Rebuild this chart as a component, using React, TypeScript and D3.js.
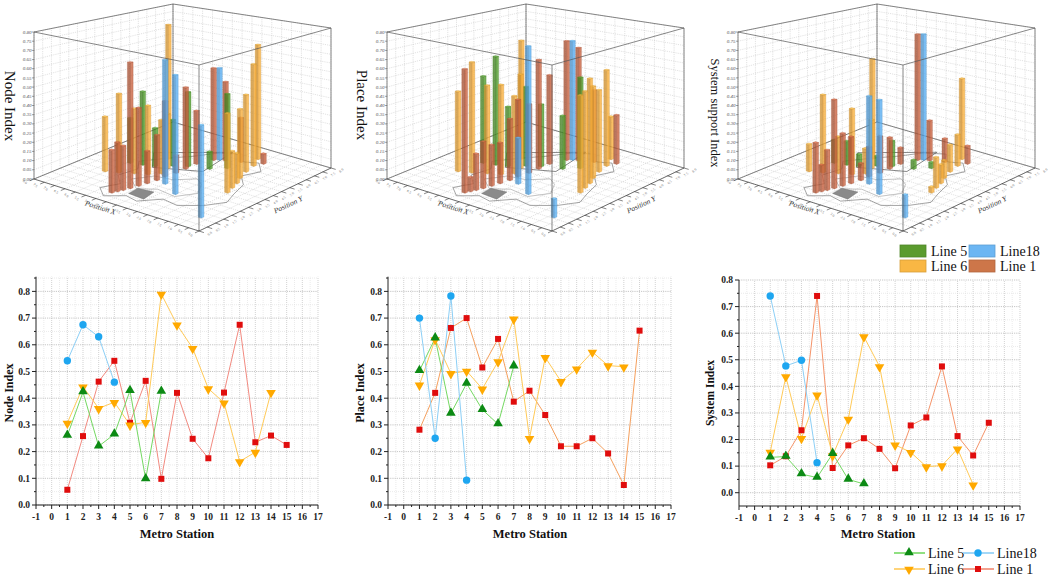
import * as d3 from 'd3';

// ---- data ----
const stationTicks = d3.range(-1, 18);

const node5 = [0.26, 0.423, 0.22, 0.265, 0.428, 0.097, 0.425];
const node18 = [0.54, 0.675, 0.63, 0.46];
const node6 = [0.307, 0.443, 0.362, 0.385, 0.3, 0.31, 0.79, 0.675, 0.587, 0.436, 0.383, 0.163, 0.198, 0.422];
const node1 = [0.057, 0.258, 0.462, 0.54, 0.308, 0.465, 0.098, 0.42, 0.248, 0.175, 0.421, 0.675, 0.235, 0.26, 0.225];

const place5 = [0.503, 0.625, 0.343, 0.455, 0.357, 0.303, 0.52];
const place18 = [0.7, 0.25, 0.783, 0.093];
const place6 = [0.45, 0.62, 0.493, 0.502, 0.435, 0.537, 0.697, 0.25, 0.553, 0.463, 0.51, 0.573, 0.522, 0.518];
const place1 = [0.282, 0.42, 0.663, 0.7, 0.515, 0.622, 0.387, 0.428, 0.337, 0.22, 0.22, 0.25, 0.193, 0.075, 0.653];

const sys5 = [0.133, 0.136, 0.07, 0.057, 0.147, 0.05, 0.033];
const sys18 = [0.74, 0.477, 0.498, 0.113];
const sys6 = [0.153, 0.437, 0.205, 0.368, 0.14, 0.277, 0.587, 0.475, 0.18, 0.152, 0.098, 0.102, 0.165, 0.03];
const sys1 = [0.103, 0.137, 0.235, 0.74, 0.093, 0.178, 0.205, 0.165, 0.092, 0.253, 0.283, 0.475, 0.213, 0.14, 0.263];

// station positions on the map floor (u = Position X share, v = Position Y share)
const pos5 = [[0.8, 0.46], [0.74, 0.48], [0.68, 0.5], [0.62, 0.56], [0.56, 0.6], [0.46, 0.64], [0.4, 0.7]];
const pos18 = [[0.5, 0.76], [0.5, 0.36], [0.38, 0.29], [0.1, 0.14]];
const pos6 = [[0.82, 0.3], [0.76, 0.33], [0.7, 0.37], [0.64, 0.4], [0.6, 0.45], [0.62, 0.52], [0.7, 0.62], [0.36, 0.88], [0.32, 0.8], [0.3, 0.72], [0.27, 0.64], [0.24, 0.58], [0.22, 0.52], [0.2, 0.46]];
const pos1 = [[0.3, 0.85], [0.4, 0.8], [0.47, 0.77], [0.52, 0.74], [0.55, 0.65], [0.55, 0.57], [0.55, 0.5], [0.56, 0.43], [0.56, 0.37], [0.57, 0.31], [0.58, 0.26], [0.59, 0.21], [0.6, 0.17], [0.61, 0.14], [0.62, 0.11]];

const zTicks = d3.range(0, 0.8001, 0.05);
const floorTicks = d3.range(0, 17);

// map decoration on the floor
const mapOutline = [[0.62, 0.05], [0.7, 0.12], [0.66, 0.22], [0.74, 0.3], [0.72, 0.42], [0.78, 0.5], [0.7, 0.62], [0.62, 0.72], [0.56, 0.82], [0.46, 0.88], [0.4, 0.8], [0.32, 0.84], [0.24, 0.76], [0.28, 0.66], [0.2, 0.58], [0.16, 0.46], [0.12, 0.36], [0.18, 0.26], [0.28, 0.18], [0.38, 0.2], [0.46, 0.1], [0.54, 0.12]];
const mapDistrict = [[0.8, 0.63], [0.51, 0.87], [0.46, 0.59], [0.68, 0.48]];
const mapInner = [[0.66, 0.3], [0.6, 0.4], [0.5, 0.42], [0.42, 0.5], [0.36, 0.46], [0.3, 0.36], [0.36, 0.26], [0.48, 0.28], [0.56, 0.22]];
const mapLake = [[0.45, 0.14], [0.55, 0.15], [0.56, 0.23], [0.47, 0.24]];

const font = '"Liberation Serif", "Times New Roman", serif';

const barColors = { l5: '#4f9a2a', l18: '#5aaef2', l6: '#f9ae3a', l1: '#c8623f' };
const legendBarColors = { l5: '#5b9b2e', l18: '#6cb6f3', l6: '#f9b744', l1: '#cd7649' };
const markColors = { l5: '#0c8a14', l18: '#1ea6f0', l6: '#ffa900', l1: '#e00d0d' };
const lineColors = { l5: '#74d862', l18: '#8ccff6', l6: '#ffca58' };

// ---- 3D panel geometry (perspective approximated bilinearly) ----
const F0 = [199, 231], L0 = [34, 179], R0 = [331, 168], B0 = [173, 122];
const HF = 166, HL = 147, HR = 140, HB = 118;

function makeProj(dx: number) {
  const z = d3.scaleLinear().domain([0, 0.8]).range([0, 1]);
  return (u: number, v: number, val = 0): [number, number] => {
    const a = (1 - u) * (1 - v), b = u * (1 - v), c = (1 - u) * v, d = u * v;
    const x = a * F0[0] + b * L0[0] + c * R0[0] + d * B0[0] + dx;
    const y = a * F0[1] + b * L0[1] + c * R0[1] + d * B0[1];
    const h = a * HF + b * HL + c * HR + d * HB;
    return [x, y - h * z(val)];
  };
}

const poly = (pts: [number, number][]) => 'M' + pts.map((p) => p[0].toFixed(1) + ',' + p[1].toFixed(1)).join('L') + 'Z';
const seg = (a: [number, number], b: [number, number]) => `M${a[0].toFixed(1)},${a[1].toFixed(1)}L${b[0].toFixed(1)},${b[1].toFixed(1)}`;

function Panel3D({ dx, title, titleX, titleY, titleSize, v5, v18, v6, v1 }: any) {
  const P = makeProj(dx);
  const gs = floorTicks.map((i) => i / 16);
  const grid = '#c4c4c4';
  const bars = [
    ...pos5.map((p, i) => ({ p, val: v5[i], c: barColors.l5 })),
    ...pos18.map((p, i) => ({ p, val: v18[i], c: barColors.l18 })),
    ...pos6.map((p, i) => ({ p, val: v6[i], c: barColors.l6 })),
    ...pos1.map((p, i) => ({ p, val: v1[i], c: barColors.l1 })),
  ].sort((a, b) => b.p[0] + b.p[1] - (a.p[0] + a.p[1]));
  const du = 0.0095, dv = 0.0095;
  const edge = '#555';
  return (
    <g>
      {/* walls and floor */}
      <path d={poly([P(1, 0), P(1, 1), P(1, 1, 0.8), P(1, 0, 0.8)])} fill="#fff" />
      <path d={poly([P(1, 1), P(0, 1), P(0, 1, 0.8), P(1, 1, 0.8)])} fill="#fff" />
      {gs.map((t) => (
        <g key={'g' + t} stroke={grid} strokeWidth={0.5} strokeDasharray="1.2,1">
          <path d={seg(P(1, t), P(1, t, 0.8))} />
          <path d={seg(P(t, 1), P(t, 1, 0.8))} />
          <path d={seg(P(t, 0), P(t, 1))} />
          <path d={seg(P(0, t), P(1, t))} />
        </g>
      ))}
      {zTicks.map((z) => (
        <g key={'z' + z} stroke={grid} strokeWidth={0.5} strokeDasharray="1.2,1">
          <path d={seg(P(1, 0, z), P(1, 1, z))} />
          <path d={seg(P(1, 1, z), P(0, 1, z))} />
        </g>
      ))}
      {/* map */}
      <path d={poly(mapOutline.map((p) => P(p[0], p[1])))} fill="none" stroke="#6a6a6a" strokeWidth={0.6} />
      <path d={poly(mapInner.map((p) => P(p[0], p[1])))} fill="none" stroke="#888" strokeWidth={0.5} />
      <path d={poly(mapDistrict.map((p) => P(p[0], p[1])))} fill="none" stroke="#555" strokeWidth={0.7} />
      <path d={poly(mapLake.map((p) => P(p[0], p[1])))} fill="#8a8a8a" stroke="#666" strokeWidth={0.4} />
      {/* back edges */}
      <g stroke={edge} strokeWidth={0.7} fill="none">
        <path d={seg(P(1, 0), P(1, 0, 0.8))} />
        <path d={seg(P(1, 1), P(1, 1, 0.8))} />
        <path d={seg(P(0, 1), P(0, 1, 0.8))} />
        <path d={seg(P(1, 0, 0.8), P(1, 1, 0.8))} />
        <path d={seg(P(1, 1, 0.8), P(0, 1, 0.8))} />
        <path d={seg(P(1, 0), P(1, 1))} />
        <path d={seg(P(1, 1), P(0, 1))} />
      </g>
      {/* bars */}
      {bars.map((b, i) => {
        const [u, v] = b.p;
        const a0 = P(u - du, v - dv), b0 = P(u + du, v - dv), c0 = P(u - du, v + dv);
        const a1 = P(u - du, v - dv, b.val), b1 = P(u + du, v - dv, b.val), c1 = P(u - du, v + dv, b.val), d1 = P(u + du, v + dv, b.val);
        const dark = d3.color(b.c)!.darker(0.5).formatHex();
        return (
          <g key={i} fillOpacity={0.78} stroke={dark} strokeWidth={0.3}>
            <path d={poly([b0, a0, a1, b1])} fill={dark} />
            <path d={poly([a0, c0, c1, a1])} fill={b.c} />
            <path d={poly([a1, b1, d1, c1])} fill={d3.color(b.c)!.brighter(0.3).formatHex()} />
          </g>
        );
      })}
      {/* front edges and axes */}
      <g stroke={edge} strokeWidth={0.7} fill="none">
        <path d={seg(P(0, 0), P(0, 0, 0.8))} />
        <path d={seg(P(1, 0, 0.8), P(0, 0, 0.8))} />
        <path d={seg(P(0, 0, 0.8), P(0, 1, 0.8))} />
        <path d={seg(P(1, 0), P(0, 0))} stroke="#333" />
        <path d={seg(P(0, 0), P(0, 1))} stroke="#333" />
      </g>
      {zTicks.map((z) => {
        const p = P(1, 0, z);
        return (
          <g key={'zt' + z}>
            <path d={seg(p, [p[0] - 2, p[1]])} stroke="#444" strokeWidth={0.5} />
            <text x={p[0] - 2.5} y={p[1] + 1.6} fontSize={5} fontStyle="italic" textAnchor="end" fill="#555" fontFamily={font}>
              {z.toFixed(2)}
            </text>
          </g>
        );
      })}
      {gs.map((t, i) => {
        const p = P(t, 0), q = P(t, -0.03), lx = P(t, -0.07);
        const r = P(0, t), s = P(-0.03, t), ly = P(-0.07, t);
        return (
          <g key={'ft' + t}>
            <path d={seg(p, q)} stroke="#333" strokeWidth={0.6} />
            <path d={seg(r, s)} stroke="#333" strokeWidth={0.6} />
            <text x={lx[0]} y={lx[1]} fontSize={3.6} fill="#777" textAnchor="middle" fontFamily={font} transform={`rotate(40 ${lx[0]} ${lx[1]})`}>
              {(i * 0.5).toFixed(1)}
            </text>
            <text x={ly[0]} y={ly[1]} fontSize={3.6} fill="#777" textAnchor="middle" fontFamily={font} transform={`rotate(-40 ${ly[0]} ${ly[1]})`}>
              {(i * 0.5).toFixed(1)}
            </text>
          </g>
        );
      })}
      {(() => {
        const px = P(0.52, -0.1), py = P(-0.15, 0.5);
        return (
          <g fontFamily={font} fontStyle="italic" fontSize={7.5} fill="#333" textAnchor="middle">
            <text x={px[0]} y={px[1]} transform={`rotate(17.5 ${px[0]} ${px[1]})`}>Position X</text>
            <text x={py[0]} y={py[1]} transform={`rotate(-25 ${py[0]} ${py[1]})`}>Position Y</text>
          </g>
        );
      })()}
      <text x={titleX} y={titleY} fontFamily={font} fontSize={titleSize} fill="#111" textAnchor="middle" transform={`rotate(90 ${titleX} ${titleY})`} dy="0.35em">
        {title}
      </text>
    </g>
  );
}

// ---- line charts ----
const triUp = d3.symbol(d3.symbolTriangle, 40)()!;
const square = d3.symbol(d3.symbolSquare, 36)()!;

function Marker({ kind, x, y }: { kind: string; x: number; y: number }) {
  if (kind === 'l5') return <path d={triUp} transform={`translate(${x},${y - 0.5})`} fill={markColors.l5} />;
  if (kind === 'l6') return <path d={triUp} transform={`translate(${x},${y + 0.5}) rotate(180)`} fill={markColors.l6} />;
  if (kind === 'l18') return <circle cx={x} cy={y} r={3.7} fill={markColors.l18} />;
  return <path d={square} transform={`translate(${x},${y})`} fill={markColors.l1} />;
}

function LinePanel({ xl, xr, yMin, yMax, yb, yt, axisY, title, titleX, xTitleX, titleSize, l1Color, v5, v18, v6, v1 }: any) {
  const x = d3.scaleLinear().domain([-1, 17]).range([xl, xr]);
  const y = d3.scaleLinear().domain([yMin, yMax]).range([yb, yt]);
  const line = d3.line<number>().x((_, i) => x(i + 1)).y((d) => y(d));
  const majorY = d3.range(0, 0.8001, 0.1);
  const minorY = d3.range(0.05, yMax, 0.1);
  const halfX = d3.range(-0.5, 17, 1);
  const series = [
    { k: 'l1', vals: v1, c: l1Color },
    { k: 'l6', vals: v6, c: lineColors.l6 },
    { k: 'l5', vals: v5, c: lineColors.l5 },
    { k: 'l18', vals: v18, c: lineColors.l18 },
  ];
  return (
    <g fontFamily={font}>
      {halfX.map((t) => (
        <line key={'hx' + t} x1={x(t)} x2={x(t)} y1={axisY} y2={y(yMax)} stroke="#dedede" strokeWidth={0.6} strokeDasharray="1,1" />
      ))}
      {stationTicks.slice(1).map((t) => (
        <line key={'gx' + t} x1={x(t)} x2={x(t)} y1={axisY} y2={y(yMax)} stroke="#b4b4b4" strokeWidth={0.6} strokeDasharray="1,1" />
      ))}
      {minorY.map((t) => (
        <line key={'my' + t} x1={xl} x2={xr} y1={y(t)} y2={y(t)} stroke="#dedede" strokeWidth={0.6} strokeDasharray="1,1" />
      ))}
      {majorY.map((t) => (
        <line key={'gy' + t} x1={xl} x2={xr} y1={y(t)} y2={y(t)} stroke="#a0a0a0" strokeWidth={0.6} strokeDasharray="1.2,1" />
      ))}
      {series.map((s) => (
        <path key={s.k} d={line(s.vals)!} fill="none" stroke={s.c} strokeWidth={1} />
      ))}
      {series.map((s) => s.vals.map((d: number, i: number) => <Marker key={s.k + i} kind={s.k} x={x(i + 1)} y={y(d)} />))}
      {/* axes */}
      <line x1={xl} x2={xl} y1={axisY} y2={y(yMax)} stroke="#222" strokeWidth={1} />
      <line x1={xl} x2={xr} y1={axisY} y2={axisY} stroke="#222" strokeWidth={1} />
      {majorY.map((t) => (
        <g key={'ty' + t}>
          <line x1={xl - 4} x2={xl} y1={y(t)} y2={y(t)} stroke="#222" />
          <text x={xl - 6} y={y(t)} dy="0.35em" fontSize={9.5} fontWeight="bold" textAnchor="end" fill="#222">
            {t.toFixed(1)}
          </text>
        </g>
      ))}
      {minorY.map((t) => (
        <line key={'tmy' + t} x1={xl - 2} x2={xl} y1={y(t)} y2={y(t)} stroke="#222" />
      ))}
      {stationTicks.map((t) => (
        <g key={'tx' + t}>
          <line x1={x(t)} x2={x(t)} y1={axisY} y2={axisY + 4} stroke="#222" />
          <text x={x(t)} y={axisY + 15} fontSize={9.5} fontWeight="bold" textAnchor="middle" fill="#222">
            {t}
          </text>
        </g>
      ))}
      {halfX.map((t) => (
        <line key={'tmx' + t} x1={x(t)} x2={x(t)} y1={axisY} y2={axisY + 2} stroke="#222" />
      ))}
      <text x={xTitleX} y={538} fontSize={12.5} fontWeight="bold" textAnchor="middle" fill="#111">
        Metro Station
      </text>
      <text x={titleX} y={393} fontSize={titleSize} fontWeight="bold" textAnchor="middle" fill="#111" transform={`rotate(-90 ${titleX} 393)`} dy="0.35em">
        {title}
      </text>
    </g>
  );
}

function Legends() {
  const rows = [
    { k: 'l5', name: 'Line 5', x: 900, row: 0 },
    { k: 'l18', name: 'Line18', x: 969, row: 0 },
    { k: 'l6', name: 'Line 6', x: 900, row: 1 },
    { k: 'l1', name: 'Line 1', x: 969, row: 1 },
  ];
  return (
    <g fontFamily={font} fontSize={14} fill="#111">
      {rows.map((r) => {
        const c = (legendBarColors as any)[r.k];
        const y0 = 245 + r.row * 15;
        return (
          <g key={'b' + r.k}>
            <rect x={r.x} y={y0} width={26} height={12} fill={c} stroke={d3.color(c)!.darker(0.4).formatHex()} strokeWidth={0.8} />
            <text x={r.x + 31} y={y0 + 10.5}>{r.name}</text>
          </g>
        );
      })}
      {rows.map((r) => {
        const lc = r.k === 'l1' ? '#f28a72' : (lineColors as any)[r.k];
        const y0 = 553 + r.row * 16;
        const x0 = r.x - 6;
        return (
          <g key={'l' + r.k}>
            <line x1={x0} x2={x0 + 31} y1={y0} y2={y0} stroke={lc} strokeWidth={1.6} />
            <Marker kind={r.k} x={x0 + 15} y={y0} />
            <text x={x0 + 34} y={y0 + 5}>{r.name}</text>
          </g>
        );
      })}
    </g>
  );
}

export default function App() {
  return (
    <svg width={1052} height={579} style={{ position: 'absolute', left: 0, top: 0, background: '#fff' }}>
      <rect width={1052} height={579} fill="#fff" />
      <Panel3D dx={0} title="Node Index" titleX={10} titleY={106} titleSize={15} v5={node5} v18={node18} v6={node6} v1={node1} />
      <Panel3D dx={353} title="Place Index" titleX={362} titleY={105} titleSize={15} v5={place5} v18={place18} v6={place6} v1={place1} />
      <Panel3D dx={704} title="System support Index" titleX={715} titleY={113} titleSize={12.5} v5={sys5} v18={sys18} v6={sys6} v1={sys1} />
      <LinePanel xl={36} xr={318} yMin={0} yMax={0.855} yb={505} yt={276.7} axisY={505} title="Node Index" titleX={9} xTitleX={177} titleSize={12} l1Color="#f28a80" v5={node5} v18={node18} v6={node6} v1={node1} />
      <LinePanel xl={388} xr={671} yMin={0} yMax={0.855} yb={505} yt={276.7} axisY={505} title="Place Index" titleX={360} xTitleX={530} titleSize={12} l1Color="#f5a05e" v5={place5} v18={place18} v6={place6} v1={place1} />
      <LinePanel xl={739} xr={1020} yMin={-0.05} yMax={0.8} yb={506} yt={280} axisY={506} title="System Index" titleX={710} xTitleX={878} titleSize={11.5} l1Color="#f5946a" v5={sys5} v18={sys18} v6={sys6} v1={sys1} />
      <Legends />
    </svg>
  );
}
